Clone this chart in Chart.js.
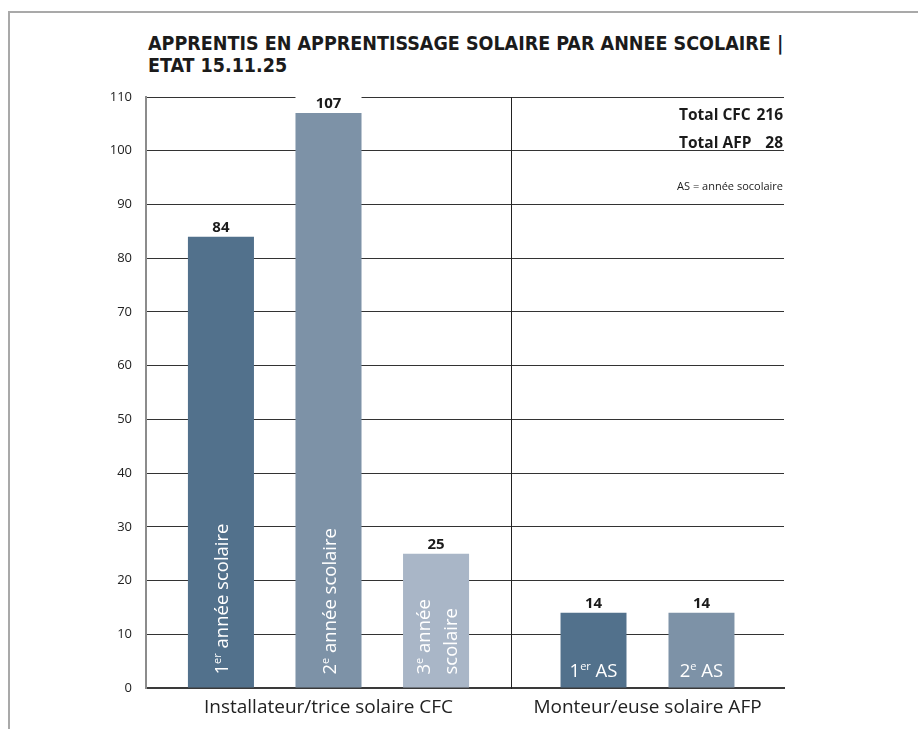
<!DOCTYPE html>
<html>
<head>
<meta charset="utf-8">
<script src="https://cdn.jsdelivr.net/npm/chart.js@4.4.1/dist/chart.umd.min.js"></script>
<style>
  body { margin: 0; background: #fff; width: 918px; height: 729px; overflow: hidden; position: relative; font-family: 'Open Sans', sans-serif; color: #1b1b1b; }
  #frame { position: absolute; left: 8px; top: 11px; width: 940px; height: 760px; border-top: 2px solid #a9a9a9; border-left: 2px solid #a9a9a9; }
  #title { position: absolute; left: 148px; top: 33px; margin: 0; font-family: 'DejaVu Sans Condensed', 'DejaVu Sans', sans-serif; font-stretch: condensed; font-weight: bold; font-size: 19.5px; line-height: 22px; }
  canvas { position: absolute; top: 0; }
  #cfc { left: 0; }
  #afp { left: 500px; }
  #totals { position: absolute; right: 135px; top: 100px; display: grid; grid-template-columns: auto auto; column-gap: 5px; font-weight: bold; font-size: 15.5px; line-height: 28px; }
  #totals .n { text-align: right; }
  #note { position: absolute; right: 135px; top: 177px; font-size: 11px; line-height: 18px; }
</style>
</head>
<body>
<div id="frame"></div>
<h1 id="title">APPRENTIS EN APPRENTISSAGE SOLAIRE PAR ANNEE SCOLAIRE |<br>ETAT 15.11.25</h1>
<canvas id="cfc" width="520" height="729"></canvas>
<canvas id="afp" width="300" height="729"></canvas>
<div id="totals">
  <span>Total CFC</span><span class="n" id="totCfc"></span>
  <span>Total AFP</span><span class="n" id="totAfp"></span>
</div>
<div id="note">AS = année socolaire</div>
<script>
// data
const categories = ['Installateur/trice solaire CFC', 'Monteur/euse solaire AFP'];
const cfcValues = [84, 107, 25];
const afpValues = [14, 14];
const cfcBarLabels = ['1^er^ année scolaire', '2^e^ année scolaire', '3^e^ année\nscolaire'];
const afpBarLabels = ['1^er^ AS', '2^e^ AS'];
const yTickValues = [0, 10, 20, 30, 40, 50, 60, 70, 80, 90, 100, 110];

const cfcColors = ['#52718c', '#7d92a7', '#a9b6c7'];
const afpColors = ['#52718c', '#7d92a7'];

Chart.defaults.font.family = '"Open Sans", sans-serif';
Chart.defaults.color = '#222';

document.getElementById('totCfc').textContent = cfcValues.reduce((a, b) => a + b, 0);
document.getElementById('totAfp').textContent = afpValues.reduce((a, b) => a + b, 0);

// text with ^..^ parts drawn as superscript
function richParts(ctx, text, size, cb) {
    let x = 0;
    text.split('^').forEach((p, k) => {
        const sup = k % 2 === 1;
        ctx.font = (sup ? Math.round(size * 0.62) : size) + 'px "Open Sans"';
        if (cb) cb(p, x, sup);
        x += ctx.measureText(p).width;
    });
    return x;
}

function drawRich(ctx, text, x, y, size) {
    richParts(ctx, text, size, (p, dx, sup) => {
        ctx.fillText(p, x + dx, sup ? y - size * 0.36 : y);
    });
}

const barText = {
    id: 'barText',
    afterDatasetsDraw(chart, args, opts) {
        const ctx = chart.ctx;
        chart.data.datasets.forEach((ds, i) => {
            const bar = chart.getDatasetMeta(i).data[0];
            const w = bar.width;
            ctx.save();
            // value above the bar, gap in the grid line behind it
            ctx.fillStyle = '#fff';
            ctx.fillRect(bar.x - w / 2, bar.y - 21, w, 20);
            ctx.fillStyle = '#1b1b1b';
            ctx.font = 'bold 15px "Open Sans"';
            ctx.textAlign = 'center';
            ctx.textBaseline = 'alphabetic';
            ctx.fillText(ds.data[0], bar.x, bar.y - 5);

            // label inside the bar
            ctx.textAlign = 'left';
            ctx.fillStyle = '#fff';
            const label = opts.labels[i];
            if (opts.rotate) {
                const lines = label.split('\n');
                lines.forEach((ln, j) => {
                    ctx.save();
                    ctx.translate(bar.x + 7 - (lines.length - 1) * 13.5 + j * 27, bar.base - 13);
                    ctx.rotate(-Math.PI / 2);
                    drawRich(ctx, ln, 0, 0, 18.5);
                    ctx.restore();
                });
            } else {
                const tw = richParts(ctx, label, 18.5);
                drawRich(ctx, label, bar.x - tw / 2, bar.base - 11, 18.5);
            }
            ctx.restore();
        });
    }
};

function makeChart(id, label, values, colors, barLabels, opt) {
    return new Chart(document.getElementById(id), {
        type: 'bar',
        data: {
            labels: [label],
            datasets: values.map((v, i) => ({
                data: [v],
                backgroundColor: colors[i],
                categoryPercentage: opt.catPct,
                barPercentage: opt.barPct
            }))
        },
        options: {
            responsive: false,
            animation: false,
            layout: { padding: { top: 97, right: opt.padRight, left: 0, bottom: 0 } },
            plugins: {
                legend: { display: false },
                tooltip: { enabled: false },
                barText: { labels: barLabels, rotate: opt.rotate }
            },
            scales: {
                x: {
                    grid: { display: false },
                    border: { color: '#3a3a3a', width: 2 },
                    ticks: { font: { size: 19 }, color: '#222', padding: 0 },
                    afterFit: s => { s.height = 41; }
                },
                y: {
                    min: 0,
                    max: 110,
                    afterBuildTicks: s => { s.ticks = yTickValues.map(v => ({ value: v })); },
                    grid: { color: '#333', lineWidth: 1, drawTicks: false },
                    border: { color: opt.axisColor, width: opt.axisWidth },
                    ticks: { display: opt.showTicks, font: { size: 13 }, color: '#222', padding: 14 },
                    afterFit: s => { s.width = opt.axisBox; }
                }
            }
        },
        plugins: [barText]
    });
}

makeChart('cfc', categories[0], cfcValues, cfcColors, cfcBarLabels, {
    catPct: 0.884, barPct: 0.614, padRight: 9, rotate: true,
    axisColor: '#8c8c8c', axisWidth: 2, showTicks: true, axisBox: 146
});

makeChart('afp', categories[1], afpValues, afpColors, afpBarLabels, {
    catPct: 0.791, barPct: 0.611, padRight: 16, rotate: false,
    axisColor: '#222', axisWidth: 1, showTicks: false, axisBox: 11
});
</script>
</body>
</html>
